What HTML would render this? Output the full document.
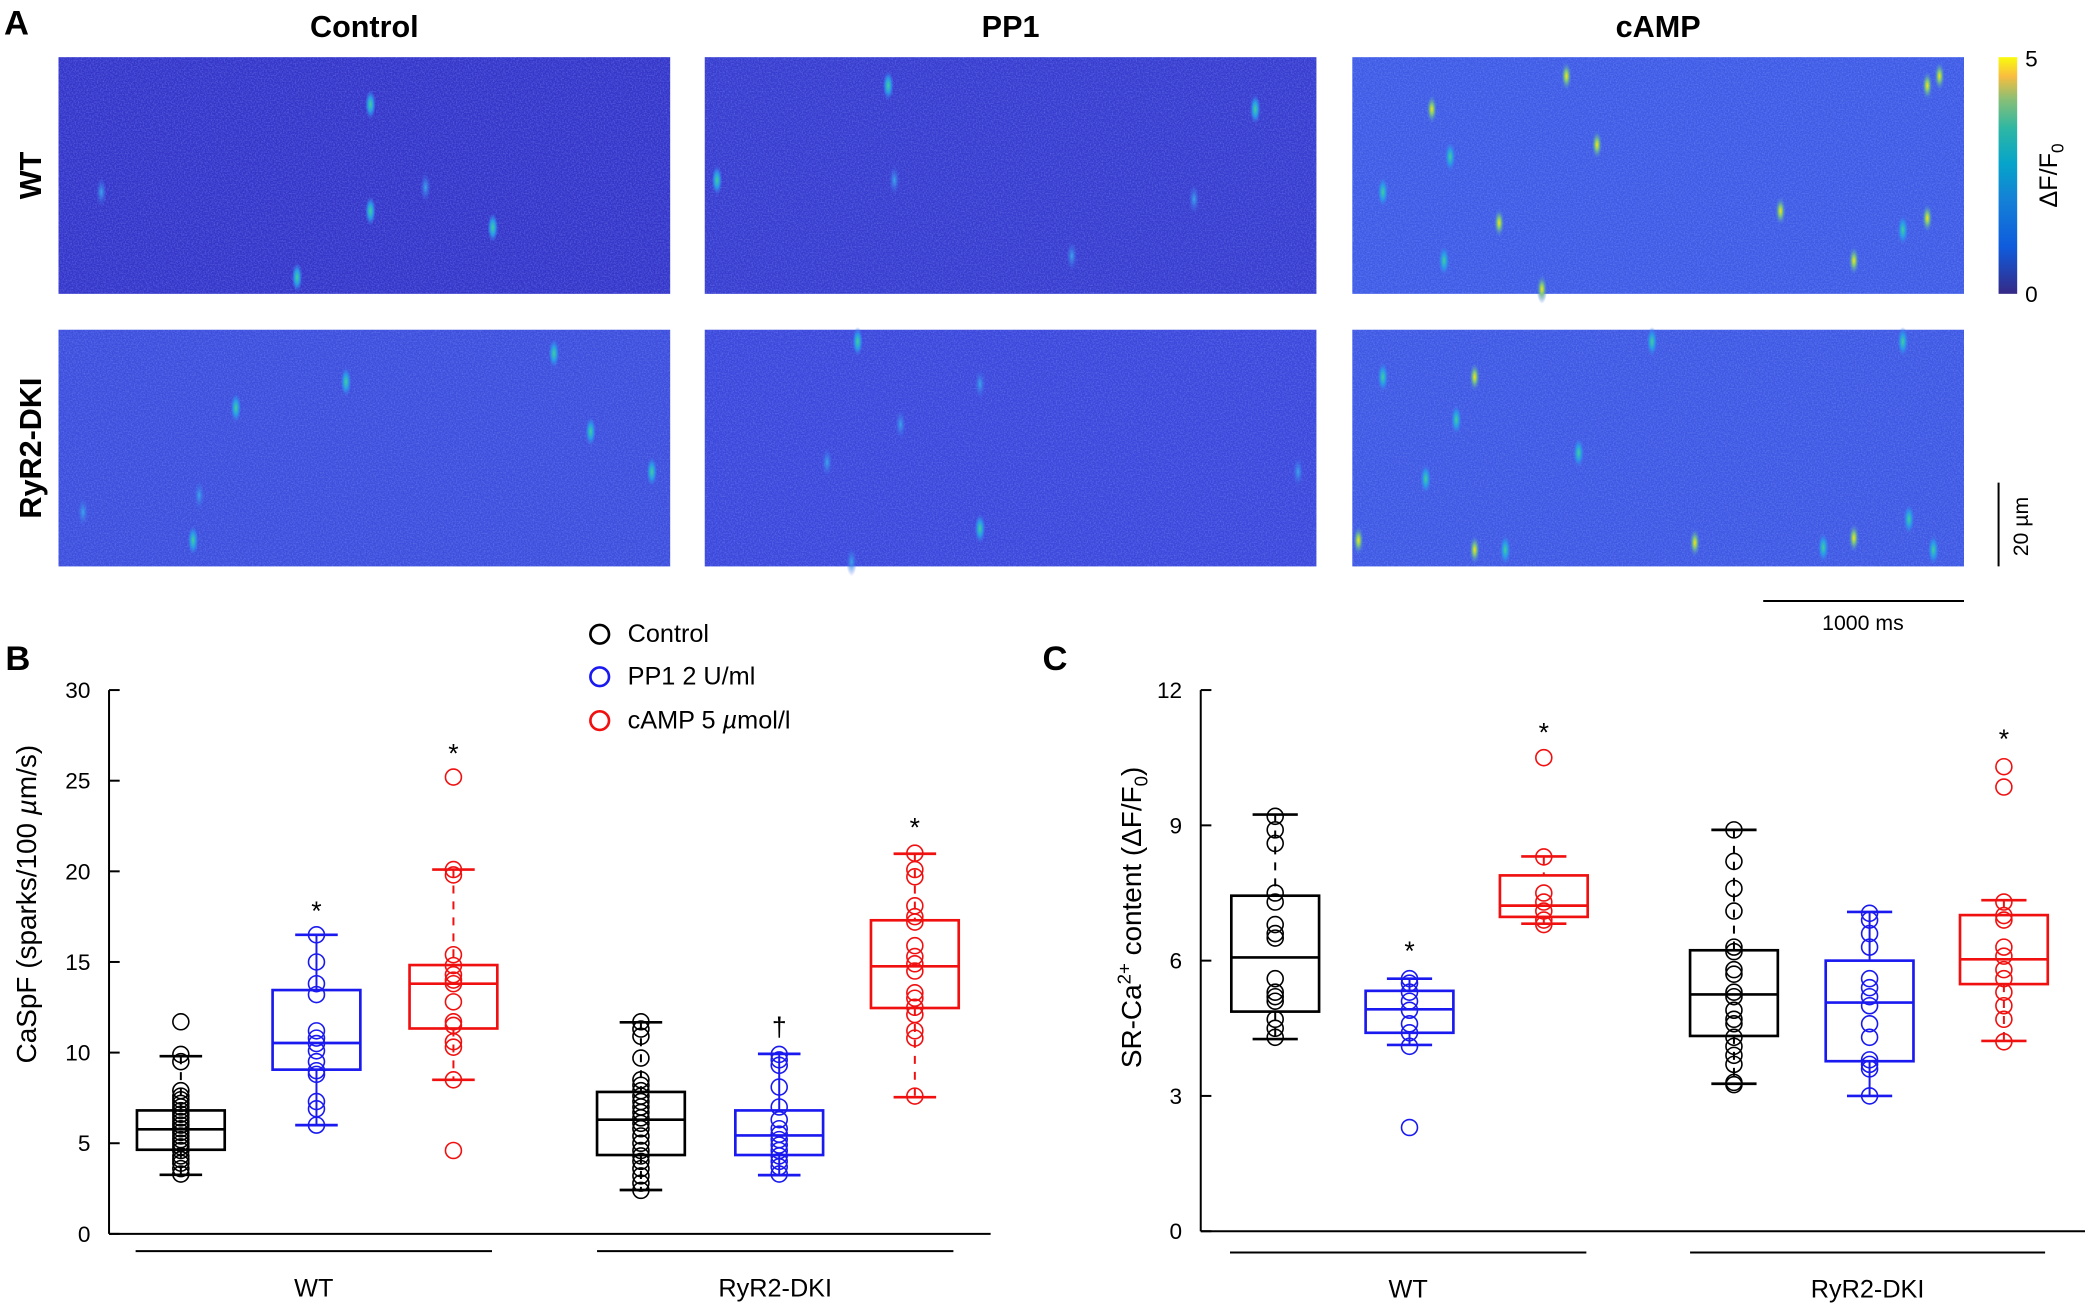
<!DOCTYPE html>
<html><head><meta charset="utf-8"><style>
html,body{margin:0;padding:0;background:#fff}
svg{display:block}
text{font-family:"Liberation Sans",Arial,sans-serif}
</style></head><body>
<svg id="fig" width="2085" height="1307" viewBox="0 0 1568 983" preserveAspectRatio="none" xmlns="http://www.w3.org/2000/svg">
<defs>
<filter id="noise" x="0" y="0" width="100%" height="100%">
<feTurbulence type="fractalNoise" baseFrequency="0.9" numOctaves="2" seed="3"/>
<feColorMatrix type="matrix" values="0 0 0 0 0.3  0 0 0 0 0.45  0 0 0 0 1  0 0 0 1.2 -0.45"/>
</filter>
<linearGradient id="parula" x1="0" y1="1" x2="0" y2="0">
<stop offset="0" stop-color="#352a87"/><stop offset="0.2" stop-color="#0f5cdd"/>
<stop offset="0.4" stop-color="#1481d6"/><stop offset="0.55" stop-color="#06a4ca"/>
<stop offset="0.7" stop-color="#2eb7a4"/><stop offset="0.82" stop-color="#87bf77"/>
<stop offset="0.92" stop-color="#f9bd3f"/><stop offset="1" stop-color="#f9fb0e"/>
</linearGradient>
<radialGradient id="sparkHot"><stop offset="0" stop-color="#f9e20e"/><stop offset="0.35" stop-color="#7fc67a"/><stop offset="1" stop-color="#3f7af0" stop-opacity="0"/></radialGradient>
<radialGradient id="sparkMid"><stop offset="0" stop-color="#3fcf9a"/><stop offset="0.5" stop-color="#2a9ae8"/><stop offset="1" stop-color="#3f7af0" stop-opacity="0"/></radialGradient>
<radialGradient id="sparkLow"><stop offset="0" stop-color="#3aa6ea"/><stop offset="1" stop-color="#3f6af0" stop-opacity="0"/></radialGradient>
</defs>

<g>
<text x="3" y="26" font-size="26" font-weight="bold">A</text>
<text x="274" y="28" font-size="23" font-weight="bold" text-anchor="middle">Control</text>
<text x="760" y="28" font-size="23" font-weight="bold" text-anchor="middle">PP1</text>
<text x="1247" y="28" font-size="23" font-weight="bold" text-anchor="middle">cAMP</text>
<text transform="translate(31,132) rotate(-90)" font-size="23" font-weight="bold" text-anchor="middle">WT</text>
<text transform="translate(31,337) rotate(-90)" font-size="23" font-weight="bold" text-anchor="middle">RyR2-DKI</text>
<g id="images"></g>
<rect x="1503" y="43" width="14" height="178" fill="url(#parula)"/>
<text x="1523" y="50" font-size="17">5</text>
<text x="1523" y="227" font-size="17">0</text>
<text transform="translate(1547,132) rotate(-90)" font-size="19" text-anchor="middle">ΔF/F<tspan font-size="13" dy="5">0</tspan></text>
<line x1="1503" y1="363" x2="1503" y2="426" stroke="#000" stroke-width="1.5"/>
<text transform="translate(1525,396) rotate(-90)" font-size="16" text-anchor="middle">20 µm</text>
<line x1="1326" y1="452" x2="1477" y2="452" stroke="#000" stroke-width="1.5"/>
<text x="1401" y="474" font-size="16" text-anchor="middle">1000 ms</text>
</g>

<g id="panelB">
<text x="4" y="504" font-size="26" font-weight="bold">B</text>
</g>
<g id="panelC">
<text x="784" y="504" font-size="26" font-weight="bold">C</text>
</g>
<g>
<g><circle cx="451" cy="477" r="7" fill="none" stroke="#000" stroke-width="2"/><text x="472" y="483" font-size="19">Control</text></g>
<g><circle cx="451" cy="509" r="7" fill="none" stroke="#1a1af0" stroke-width="2"/><text x="472" y="515" font-size="19">PP1 2 U/ml</text></g>
<g><circle cx="451" cy="542" r="7" fill="none" stroke="#f01010" stroke-width="2"/><text x="472" y="548" font-size="19">cAMP 5 <tspan font-style="italic">µ</tspan>mol/l</text></g>
</g>
</svg>
<script>
var NS="http://www.w3.org/2000/svg";
function mk(tag,attrs,parent){var e=document.createElementNS(NS,tag);for(var k in attrs)e.setAttribute(k,attrs[k]);parent.appendChild(e);return e;}

// ---------- Panel A images ----------
var imgX=[44,530,1017], imgY=[43,248], imgW=460, imgH=178;
var imgFill=[["#3535c9","#383ccf","#3f5be6"],["#3d4edd","#3c47dc","#3f58e4"]];
var sparkSets=[
 [[[0.51,0.2,"sparkMid"],[0.51,0.65,"sparkMid"],[0.71,0.72,"sparkMid"],[0.39,0.93,"sparkMid"],[0.6,0.55,"sparkLow"],[0.07,0.57,"sparkLow"]],
  [[0.3,0.12,"sparkMid"],[0.9,0.22,"sparkMid"],[0.02,0.52,"sparkMid"],[0.31,0.52,"sparkLow"],[0.8,0.6,"sparkLow"],[0.6,0.84,"sparkLow"]],
  [[0.35,0.08,"sparkHot"],[0.13,0.22,"sparkHot"],[0.4,0.37,"sparkHot"],[0.16,0.42,"sparkMid"],[0.05,0.57,"sparkMid"],[0.7,0.65,"sparkHot"],[0.94,0.68,"sparkHot"],[0.24,0.7,"sparkHot"],[0.9,0.73,"sparkMid"],[0.82,0.86,"sparkHot"],[0.15,0.86,"sparkMid"],[0.31,0.98,"sparkHot"],[0.96,0.08,"sparkHot"],[0.94,0.12,"sparkHot"]]],
 [[[0.81,0.1,"sparkMid"],[0.47,0.22,"sparkMid"],[0.29,0.33,"sparkMid"],[0.87,0.43,"sparkMid"],[0.97,0.6,"sparkMid"],[0.23,0.7,"sparkLow"],[0.22,0.89,"sparkMid"],[0.04,0.77,"sparkLow"]],
  [[0.25,0.05,"sparkMid"],[0.32,0.4,"sparkLow"],[0.2,0.56,"sparkLow"],[0.45,0.23,"sparkLow"],[0.45,0.84,"sparkMid"],[0.97,0.6,"sparkLow"],[0.24,0.98,"sparkLow"]],
  [[0.05,0.2,"sparkMid"],[0.2,0.2,"sparkHot"],[0.17,0.38,"sparkMid"],[0.37,0.52,"sparkMid"],[0.12,0.63,"sparkMid"],[0.01,0.89,"sparkHot"],[0.2,0.93,"sparkHot"],[0.25,0.93,"sparkMid"],[0.56,0.9,"sparkHot"],[0.82,0.88,"sparkHot"],[0.77,0.92,"sparkMid"],[0.91,0.8,"sparkMid"],[0.95,0.93,"sparkMid"],[0.9,0.05,"sparkMid"],[0.49,0.05,"sparkMid"]]]
];
var imgG=document.getElementById("images");
for(var r=0;r<2;r++)for(var c=0;c<3;c++){
 var g=mk("g",{},imgG);
 
 
 mk("rect",{x:imgX[c],y:imgY[r],width:imgW,height:imgH,fill:imgFill[r][c]},g);
 mk("rect",{x:imgX[c],y:imgY[r],width:imgW,height:imgH,filter:"url(#noise)",opacity:0.55},g);
 sparkSets[r][c].forEach(function(s){
  mk("ellipse",{cx:imgX[c]+s[0]*imgW,cy:imgY[r]+s[1]*imgH,rx:4,ry:11,fill:"url(#"+s[2]+")"},g);
 });
}

// ---------- Box plot data ----------
var groupsB=["WT Control","WT PP1","WT cAMP","DKI Control","DKI PP1","DKI cAMP"];
var boxB_q1=[4.64,9.06,11.33,4.35,4.35,12.46];
var boxB_med=[5.77,10.53,13.8,6.3,5.43,14.76];
var boxB_q3=[6.81,13.45,14.83,7.83,6.81,17.3];
var boxB_lo=[3.26,6.0,8.5,2.42,3.24,7.54];
var boxB_hi=[9.8,16.5,20.1,11.67,9.93,20.97];
var ptsB=[
 [3.3,3.6,3.9,4.1,4.3,4.6,4.8,5.0,5.2,5.4,5.6,5.8,6.0,6.2,6.4,6.6,6.8,7.0,7.2,7.4,7.6,7.9,9.5,9.9,11.7],
 [16.5,15.0,13.8,13.2,11.2,10.8,10.5,10.1,9.5,9.0,8.8,7.3,6.9,6.0],
 [25.2,20.1,19.8,15.4,14.8,14.3,14.0,13.8,12.8,11.7,11.5,10.6,10.3,8.5,4.6],
 [2.4,2.8,3.2,3.6,4.0,4.3,4.6,5.0,5.4,5.8,6.1,6.4,6.7,7.0,7.3,7.6,7.9,8.2,8.5,9.7,10.9,11.3,11.7],
 [3.3,3.7,4.0,4.3,4.6,4.9,5.2,5.5,5.8,6.3,7.0,8.1,9.3,9.6,9.9],
 [7.6,10.8,11.2,12.1,12.5,13.0,13.3,14.5,14.9,15.3,15.9,17.2,17.5,18.1,19.7,20.1,21.0]
];
var sigB=["","*","*","","†","*"];
var sigB_y=[0,17.9,26.6,0,11.5,22.5];

var boxC_q1=[4.87,4.40,6.97,4.33,3.77,5.48];
var boxC_med=[6.07,4.92,7.22,5.25,5.07,6.03];
var boxC_q3=[7.44,5.33,7.89,6.23,6.0,7.01];
var boxC_lo=[4.26,4.13,6.82,3.27,3.0,4.22];
var boxC_hi=[9.24,5.6,8.31,8.9,7.08,7.34];
var ptsC=[
 [9.2,8.9,8.6,7.5,7.3,6.8,6.6,6.5,5.6,5.3,5.2,5.1,4.7,4.5,4.3],
 [5.6,5.5,5.3,5.1,4.9,4.6,4.4,4.1,2.3],
 [10.5,8.3,7.5,7.3,7.1,6.9,6.8],
 [8.9,8.2,7.6,7.1,6.3,6.2,5.8,5.7,5.3,5.2,4.9,4.7,4.6,4.3,4.1,3.9,3.7,3.3,3.25],
 [7.05,6.9,6.6,6.3,5.6,5.4,5.2,5.0,4.6,4.3,3.8,3.7,3.6,3.0],
 [10.3,9.85,7.3,7.0,6.9,6.3,6.1,5.8,5.6,5.3,5.0,4.7,4.2]
];
var sigC=["","*","*","","","*"];
var sigC_y=[0,6.25,11.1,0,0,10.95];

var ticksB=[0,5,10,15,20,25,30];
var ticksC=[0,3,6,9,12];
var colors=["#000","#1a1af0","#f01010","#000","#1a1af0","#f01010"];
var groupLabels=["WT","RyR2-DKI"];

function drawPanel(gid,cfg){
 var G=document.getElementById(gid);
 function yS(v){return cfg.y0+(cfg.y1-cfg.y0)*(v-cfg.vmin)/(cfg.vmax-cfg.vmin);}
 function xS(i){return cfg.cx[i];}
 var ax=mk("g",{},G);
 
 
 mk("line",{x1:cfg.ax,y1:yS(cfg.vmax),x2:cfg.ax,y2:yS(cfg.vmin),stroke:"#000","stroke-width":1.5},ax);
 var xa=mk("line",{x1:cfg.ax,y1:yS(cfg.vmin),x2:cfg.axEnd,y2:yS(cfg.vmin),stroke:"#000","stroke-width":1.5},G);
 
 
 cfg.ticks.forEach(function(t){
  mk("line",{x1:cfg.ax,y1:yS(t),x2:cfg.ax+8,y2:yS(t),stroke:"#000","stroke-width":1.5},ax);
  var tl=mk("text",{x:cfg.ax-14,y:yS(t)+6,"font-size":17,"text-anchor":"end"},ax);
  
  
  tl.textContent=t;
 });
 var yl=mk("text",{transform:"translate("+cfg.ylx+","+cfg.yly+") rotate(-90)","font-size":21,"text-anchor":"middle"},G);
 
 
 yl.innerHTML=cfg.ylabel;
 for(var i=0;i<6;i++){
  var col=colors[i],x=xS(i),hw=cfg.hw,cw=cfg.cw;
  var bg=mk("g",{},G);
  
  
  var dash=(col=="#1a1af0")?"none":"6,6";
  mk("line",{x1:x,y1:yS(cfg.hi[i]),x2:x,y2:yS(cfg.q3[i]),stroke:col,"stroke-width":1.5,"stroke-dasharray":dash},bg);
  mk("line",{x1:x,y1:yS(cfg.q1[i]),x2:x,y2:yS(cfg.lo[i]),stroke:col,"stroke-width":1.5,"stroke-dasharray":dash},bg);
  mk("line",{x1:x-cw,y1:yS(cfg.hi[i]),x2:x+cw,y2:yS(cfg.hi[i]),stroke:col,"stroke-width":2},bg);
  mk("line",{x1:x-cw,y1:yS(cfg.lo[i]),x2:x+cw,y2:yS(cfg.lo[i]),stroke:col,"stroke-width":2},bg);
  mk("rect",{x:x-hw,y:yS(cfg.q3[i]),width:2*hw,height:yS(cfg.q1[i])-yS(cfg.q3[i]),fill:"none",stroke:col,"stroke-width":2},bg);
  mk("line",{x1:x-hw,y1:yS(cfg.med[i]),x2:x+hw,y2:yS(cfg.med[i]),stroke:col,"stroke-width":2},bg);
  cfg.pts[i].forEach(function(v){
   var p=mk("circle",{cx:x,cy:yS(v),r:6,fill:"none",stroke:col,"stroke-width":1.2},bg);
   
   
  });
  if(cfg.sig[i]){
   var s=mk("text",{x:x,y:yS(cfg.sigy[i])+8,"font-size":20,"text-anchor":"middle"},bg);
   
   
   s.textContent=cfg.sig[i];
  }
 }
 for(var k=0;k<2;k++){
  var gl=mk("line",{x1:cfg.gx[k][0],y1:cfg.gy,x2:cfg.gx[k][1],y2:cfg.gy,stroke:"#000","stroke-width":1.5},G);
  
  
  var t=mk("text",{x:(cfg.gx[k][0]+cfg.gx[k][1])/2,y:cfg.gy+34,"font-size":19,"text-anchor":"middle"},G);
  
  
  t.textContent=groupLabels[k];
 }
}
drawPanel("panelB",{y0:928,y1:519,vmin:0,vmax:30,ax:82,axEnd:745,ticks:ticksB,
 cx:[136,238,341,482,586,688],hw:33,cw:16,q1:boxB_q1,med:boxB_med,q3:boxB_q3,lo:boxB_lo,hi:boxB_hi,pts:ptsB,sig:sigB,sigy:sigB_y,
 ylx:27,yly:680,ylabel:'CaSpF (sparks/100 <tspan font-style="italic">µ</tspan>m/s)',gx:[[102,370],[449,717]],gy:941});
drawPanel("panelC",{y0:926,y1:519,vmin:0,vmax:12,ax:903,axEnd:1568,ticks:ticksC,
 cx:[959,1060,1161,1304,1406,1507],hw:33,cw:17,q1:boxC_q1,med:boxC_med,q3:boxC_q3,lo:boxC_lo,hi:boxC_hi,pts:ptsC,sig:sigC,sigy:sigC_y,
 ylx:858,yly:690,ylabel:'SR-Ca<tspan font-size="14" dy="-8">2+</tspan><tspan dy="8"> content (ΔF/F</tspan><tspan font-size="14" dy="5">0</tspan><tspan dy="-5">)</tspan>',gx:[[925,1193],[1271,1538]],gy:942});
</script>
</body></html>
